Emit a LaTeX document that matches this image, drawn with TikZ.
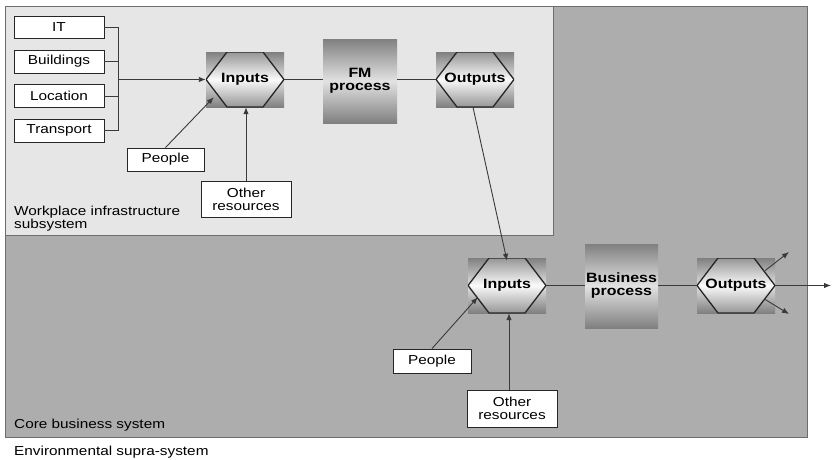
\documentclass[tikz,border=0pt]{standalone}
\usepackage{fontspec}
\setmainfont{Liberation Sans}[FakeStretch=1.18]
\usetikzlibrary{arrows.meta,calc}
\definecolor{coregray}{HTML}{ADADAD}
\definecolor{wpgray}{HTML}{E6E6E6}
\definecolor{edgegray}{HTML}{3A3A3A}
\definecolor{framegray}{HTML}{6E6E6E}
\definecolor{sqdark}{HTML}{808080}
\definecolor{sqlight}{HTML}{E2E2E2}
\definecolor{hxdark}{HTML}{969696}
\definecolor{hxlight}{HTML}{FAFAFA}
\begin{document}
\begin{tikzpicture}[x=1pt,y=-1pt,
  txt/.style={font=\fontsize{13}{13}\selectfont},
  lbl/.style={txt, draw=black!85, fill=white, line width=0.9pt, inner sep=0pt, align=center, minimum width=90, minimum height=23},
  hexbox/.style={minimum width=78, minimum height=55, inner sep=0pt,
    top color=sqdark, bottom color=sqdark, middle color=sqlight,
    font=\bfseries\fontsize{13.5}{13}\selectfont,
    path picture={
      \shade[top color=hxdark, bottom color=hxdark, middle color=hxlight]
        (path picture bounding box.west)
        -- ($(path picture bounding box.north west)+(21,0)$)
        -- ($(path picture bounding box.north east)+(-21,0)$)
        -- (path picture bounding box.east)
        -- ($(path picture bounding box.south east)+(-21,0)$)
        -- ($(path picture bounding box.south west)+(21,0)$) -- cycle;
      \draw[black!85, line width=1.3pt]
        (path picture bounding box.west)
        -- ($(path picture bounding box.north west)+(21,0)$)
        -- ($(path picture bounding box.north east)+(-21,0)$)
        -- (path picture bounding box.east)
        -- ($(path picture bounding box.south east)+(-21,0)$)
        -- ($(path picture bounding box.south west)+(21,0)$) -- cycle;
    }},
  proc/.style={minimum width=74, minimum height=84, inner sep=0pt, align=center,
    top color=sqdark, bottom color=sqdark, middle color=sqlight,
    font=\bfseries\fontsize{13.5}{13}\selectfont},
  conn/.style={draw=edgegray, line width=0.9pt},
  arr/.style={conn, -{Latex[length=7pt,width=5.5pt]}}]

\useasboundingbox (0,0) rectangle (833,459);

% system frames
\node[draw=framegray, fill=coregray, line width=0.9pt, inner sep=0pt,
      minimum width=802, minimum height=431, anchor=north west] (core) at (5,6) {};
\node[draw=framegray, fill=wpgray, line width=0.9pt, inner sep=0pt,
      minimum width=548, minimum height=229, anchor=north west] (wp) at (5,6) {};

% resource boxes
\node[lbl, minimum height=22] (it) at (59,27) {IT};
\node[lbl] (bu) at (59,61.5) {Buildings};
\node[lbl] (lo) at (59,96) {Location};
\node[lbl] (tr) at (59,130.5) {Transport};

% upper process chain
\node[hexbox] (in1) at (245,79.5) {Inputs};
\node[proc] (fm) at (360,81) {FM\\process};
\node[hexbox] (out1) at (475,79.5) {Outputs};

\node[lbl, minimum width=77] (ppl1) at (165.5,159.5) {People};
\node[lbl, minimum height=36] (oth1) at (246,199) {Other\\resources};

% lower process chain
\node[hexbox] (in2) at (507,285.5) {Inputs};
\node[proc, minimum width=73] (bp) at (621.5,286) {Business\\process};
\node[hexbox] (out2) at (736,285.5) {Outputs};

\node[lbl, minimum width=78, minimum height=24] (ppl2) at (432,361) {People};
\node[lbl, minimum height=37] (oth2) at (512,408.5) {Other\\resources};

% bracket
\coordinate (brk) at (118,79.5);
\draw[conn] (it.east) -- (it.east -| brk) -- (tr.east -| brk) -- (tr.east);
\draw[conn] (bu.east) -- (bu.east -| brk);
\draw[conn] (lo.east) -- (lo.east -| brk);
\draw[arr] (brk) -- (in1.west);

% upper connectors
\draw[conn] (in1.east) -- (in1.east -| fm.west);
\draw[conn] (out1.west -| fm.east) -- (out1.west);
\draw[arr] (ppl1.north) -- ($(in1.south west)+(8,-10)$);
\draw[arr] (oth1.north) -- (oth1.north |- in1.south);

% between systems
\draw[arr] ($(out1.south)+(-2,0)$) -- ($(in2.north)+(0,3)$);

% lower connectors
\draw[conn] (in2.east) -- (in2.east -| bp.west);
\draw[conn] (out2.west -| bp.east) -- (out2.west);
\draw[arr] (ppl2.north) -- ($(in2.south west)+(10,-16)$);
\draw[arr] ($(oth2.north)+(-3,0)$) -- ($(in2.south)+(2,0)$);

% outputs
\coordinate (oup) at (789,252);
\coordinate (odn) at (789,314);
\coordinate (ort) at (831,285.5);
\draw[arr] ($(out2.east)+(-10,-15)$) -- (oup);
\draw[arr] ($(out2.east)+(-10,14)$) -- (odn);
\draw[arr] (out2.east) -- (ort);

% system labels
\node[txt, anchor=south west, align=left, inner sep=0pt] (wplbl) at (14,231)
  {Workplace infrastructure\\subsystem};
\node[txt, anchor=base west, inner sep=0pt] (corelbl) at (14,428) {Core business system};
\node[txt, anchor=base west, inner sep=0pt] (envlbl) at (14,455) {Environmental supra-system};
\end{tikzpicture}
\end{document}
